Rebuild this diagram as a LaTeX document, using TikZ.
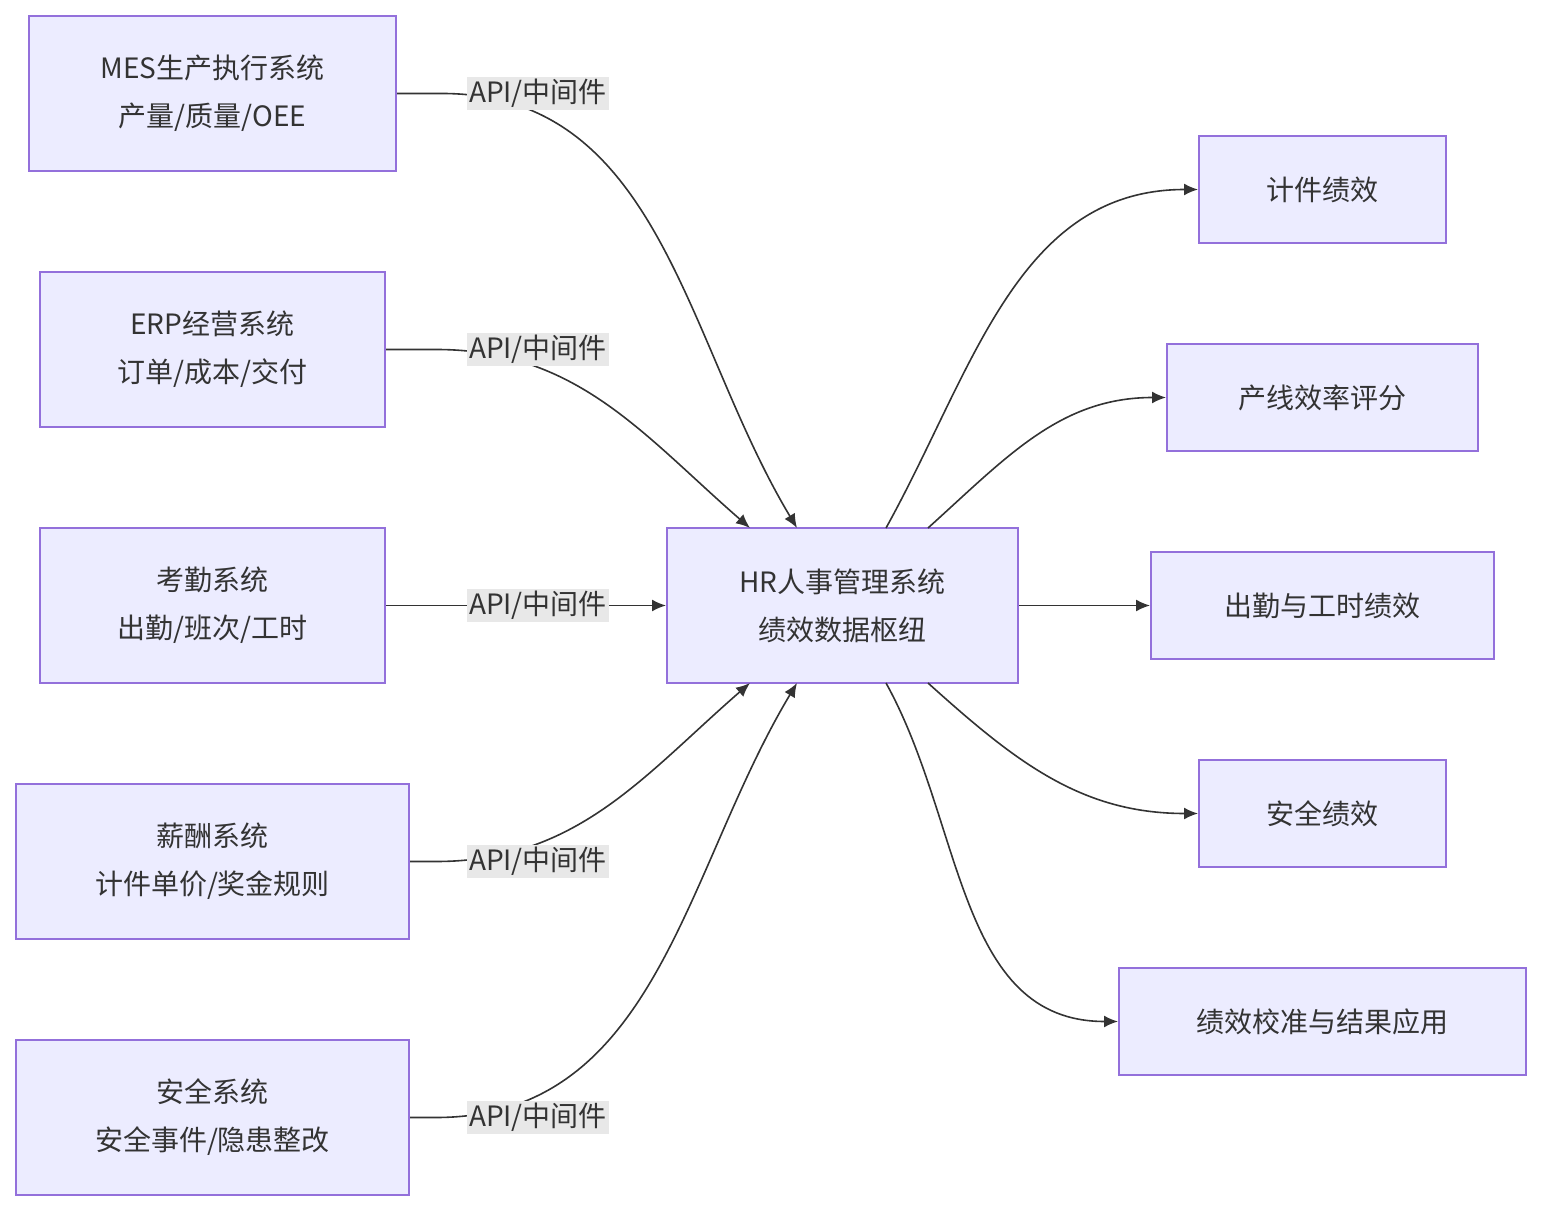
\documentclass[tikz,border=0pt]{standalone}
\usepackage{fontspec}
\setmainfont{Noto Sans CJK SC}
\usetikzlibrary{arrows.meta}
\definecolor{nfill}{HTML}{ECECFF}
\definecolor{nborder}{HTML}{9370DB}
\definecolor{lcol}{HTML}{333333}
\definecolor{lbg}{HTML}{E8E8E8}
\begin{document}
\begin{tikzpicture}[x=0.5pt,y=0.5pt,
  box/.style={draw=nborder,fill=nfill,line width=1pt,inner sep=0pt,align=center,text=lcol,font=\fontsize{14}{24}\selectfont},
  lab/.style={fill=lbg,inner sep=1pt,text=lcol,font=\fontsize{14}{16}\selectfont},
  edge/.style={draw=lcol,line width=0.8pt},
  arr/.style={edge,-{Latex[length=7pt,width=6pt]}}]
\useasboundingbox (0,0) rectangle (1542,1212);
\node[box,minimum width=183.5pt,minimum height=77.5pt] (mes) at (212.5,1118.5) {MES生产执行系统\\产量/质量/OEE};
\node[box,minimum width=172.5pt,minimum height=77.5pt] (erp) at (212.5,862.5) {ERP经营系统\\订单/成本/交付};
\node[box,minimum width=172.5pt,minimum height=77.5pt] (kq) at (212.5,606.5) {考勤系统\\出勤/班次/工时};
\node[box,minimum width=196.5pt,minimum height=77.5pt] (xc) at (212.5,350.5) {薪酬系统\\计件单价/奖金规则};
\node[box,minimum width=196.5pt,minimum height=77.5pt] (aq) at (212.5,94.5) {安全系统\\安全事件/隐患整改};
\node[box,minimum width=175.5pt,minimum height=77.5pt] (hr) at (842.5,606.5) {HR人事管理系统\\绩效数据枢纽};
\node[box,minimum width=123.5pt,minimum height=53.5pt] (r1) at (1322.5,1022.5) {计件绩效};
\node[box,minimum width=155.5pt,minimum height=53.5pt] (r2) at (1322.5,814.5) {产线效率评分};
\node[box,minimum width=171.5pt,minimum height=53.5pt] (r3) at (1322.5,606.5) {出勤与工时绩效};
\node[box,minimum width=123.5pt,minimum height=53.5pt] (r4) at (1322.5,398.5) {安全绩效};
\node[box,minimum width=203.5pt,minimum height=53.5pt] (r5) at (1322.5,190.5) {绩效校准与结果应用};
\coordinate (t1) at (797,684);
\coordinate (t2) at (750,684);
\coordinate (t4) at (750,529);
\coordinate (t5) at (797,529);
\coordinate (s1) at (886,684);
\coordinate (s2) at (928,684);
\coordinate (s4) at (928,529);
\coordinate (s5) at (886,529);
\draw[arr] (mes.east) -- ++(45,0) to[out=0,in=121] (t1);
\draw[arr] (erp.east) -- ++(50,0) to[out=0,in=139] (t2);
\draw[arr] (kq.east) -- (hr.west);
\draw[arr] (xc.east) -- ++(26,0) to[out=0,in=221] (t4);
\draw[arr] (aq.east) -- ++(26,0) to[out=0,in=239] (t5);
\draw[arr] (s1) to[out=61,in=180] (r1.west);
\draw[arr] (s2) to[out=42,in=180] (r2.west);
\draw[arr] (hr.east) -- (r3.west);
\draw[arr] (s4) to[out=-42,in=180] (r4.west);
\draw[arr] (s5) to[out=-61,in=180] (r5.west);
\node[lab] (l1) at (538,1118.5) {API/中间件};
\node[lab] (l2) at (538,862.5) {API/中间件};
\node[lab] (l3) at (538,606.5) {API/中间件};
\node[lab] (l4) at (538,350.5) {API/中间件};
\node[lab] (l5) at (538,94.5) {API/中间件};
\end{tikzpicture}
\end{document}
